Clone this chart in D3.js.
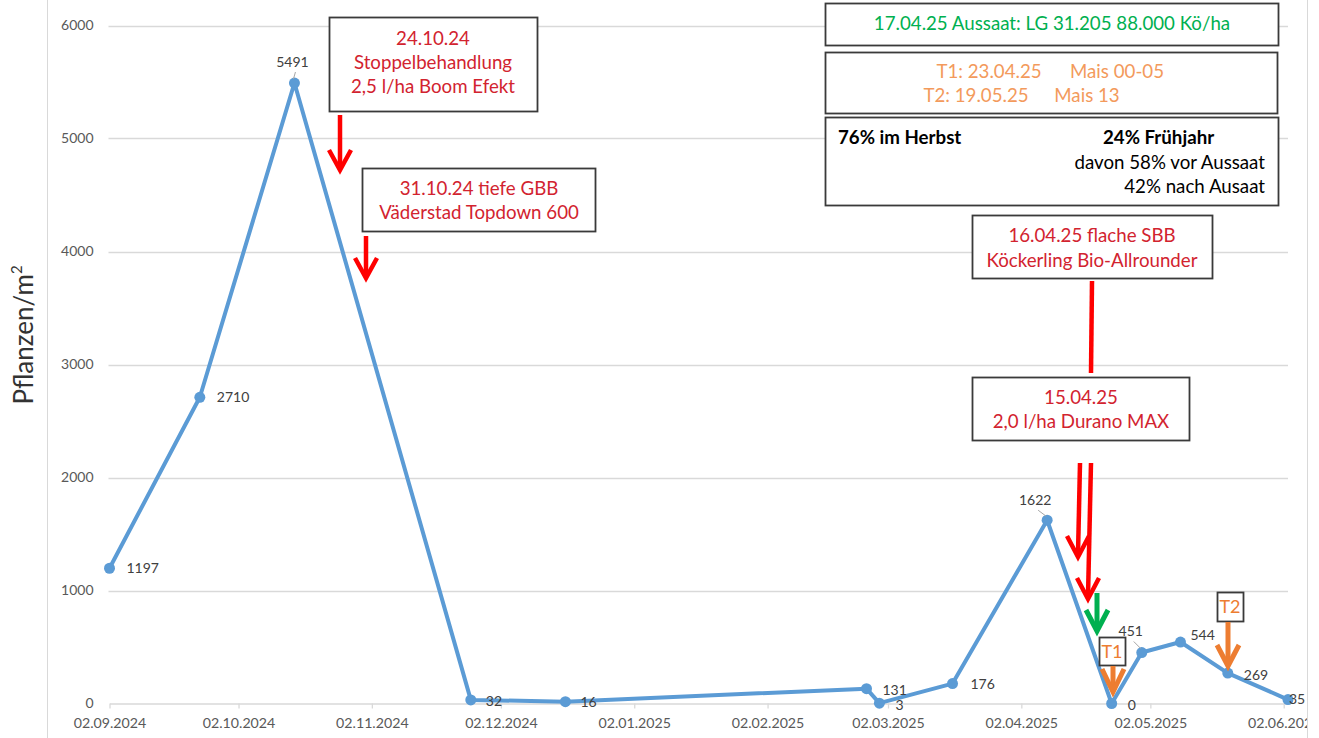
<!DOCTYPE html>
<html><head><meta charset="utf-8">
<script src="https://cdn.jsdelivr.net/npm/d3@7"></script>
<style>
html,body{margin:0;padding:0;background:#fff;overflow:hidden;}
svg{display:block;}
text{font-family:Lato,"Open Sans",sans-serif;}
</style></head><body>
<svg id="chart" width="1319" height="738"></svg>
<script>
// ---- data ----
const dates = ["2024-09-02","2024-09-23","2024-10-15","2024-11-25","2024-12-17","2025-02-25","2025-02-28","2025-03-17","2025-04-08","2025-04-23","2025-04-30","2025-05-09","2025-05-20","2025-06-03"];
const values = [1197,2710,5491,32,16,131,3,176,1622,0,451,544,269,35];
const yTicks = [0,1000,2000,3000,4000,5000,6000];
const xTicks = ["2024-09-02","2024-10-02","2024-11-02","2024-12-02","2025-01-02","2025-02-02","2025-03-02","2025-04-02","2025-05-02","2025-06-02"];
const yTitle = "Pflanzen/m";
const yTitleSup = "2";

// ---- annotation texts ----
const noteTreat1 = ["24.10.24","Stoppelbehandlung","2,5 l/ha Boom Efekt"];
const noteTreat2 = ["31.10.24 tiefe GBB","Väderstad Topdown 600"];
const noteSBB = ["16.04.25 flache SBB","Köckerling Bio-Allrounder"];
const noteDurano = ["15.04.25","2,0 l/ha Durano MAX"];
const noteSowing = "17.04.25 Aussaat: LG 31.205 88.000 Kö/ha";
const noteT = [["T1: 23.04.25","Mais 00-05"],["T2: 19.05.25","Mais 13"]];
const noteShare = ["76% im Herbst","24% Frühjahr","davon 58% vor Aussaat","42% nach Ausaat"];

// ---- layout ----
const W = 1319, H = 738;
const parse = d3.utcParse("%Y-%m-%d");
const fmt = d3.utcFormat("%d.%m.%Y");
const pts = dates.map((d,i)=>({date:parse(d), value:values[i]}));

const x = d3.scaleUtc().domain([parse("2024-09-02"), parse("2025-06-03")]).range([109.5, 1288]);
const y = d3.scaleLinear().domain([0, 6000]).range([703.5, 25.5]);

const svg = d3.select("#chart");
svg.append("defs").append("clipPath").attr("id","frameClip")
  .append("rect").attr("x",0).attr("y",0).attr("width",1307).attr("height",H);
const root = svg.append("g").attr("clip-path","url(#frameClip)");

// frame lines
root.append("line").attr("x1",47.5).attr("x2",47.5).attr("y1",0).attr("y2",H).attr("stroke","#D9D9D9");
svg.append("line").attr("x1",1307.5).attr("x2",1307.5).attr("y1",0).attr("y2",H).attr("stroke","#D9D9D9");

// gridlines
root.append("g").selectAll("line").data(yTicks.filter(v=>v>0)).join("line")
  .attr("x1",x.range()[0]-1).attr("x2",x.range()[1])
  .attr("y1",d=>Math.round(y(d))+0.5).attr("y2",d=>Math.round(y(d))+0.5)
  .attr("stroke","#D9D9D9").attr("stroke-width",1.3);

// y axis
const yAxis = root.append("g").attr("transform",`translate(${x.range()[0]},0)`)
  .call(d3.axisLeft(y).tickValues(yTicks).tickSize(0).tickPadding(16).tickFormat(d3.format("d")));
yAxis.select(".domain").remove();
yAxis.selectAll("text").attr("font-size",14).attr("fill","#595959").style("font-family","Lato");

// x axis
const xAxis = root.append("g").attr("transform",`translate(0,${y(0)})`)
  .call(d3.axisBottom(x).tickValues(xTicks.map(parse)).tickFormat(fmt).tickSize(5).tickSizeOuter(0).tickPadding(9));
xAxis.select(".domain").attr("stroke","#D9D9D9").attr("stroke-width",1.3);
xAxis.selectAll(".tick line").attr("stroke","#D9D9D9").attr("stroke-width",1.3);
xAxis.selectAll("text").attr("font-size",14.2).attr("fill","#595959").style("font-family","Lato");

// y title
const yt = root.append("text").attr("transform","translate(33,335) rotate(-90)")
  .attr("text-anchor","middle").attr("font-size",26).attr("fill","#333");
yt.append("tspan").text(yTitle);
yt.append("tspan").text(yTitleSup).attr("font-size",15).attr("dy",-11);

// line + markers
const lineGen = d3.line().x(d=>x(d.date)).y(d=>y(d.value));
root.append("path").datum(pts).attr("d",lineGen)
  .attr("fill","none").attr("stroke","#5B9BD5").attr("stroke-width",4).attr("stroke-linejoin","round");
root.append("g").selectAll("circle").data(pts).join("circle")
  .attr("cx",d=>x(d.date)).attr("cy",d=>y(d.value)).attr("r",5.5).attr("fill","#5B9BD5");

// data labels (offsets are layout, not data)
const labelOffsets = [[17,0,"start"],[17,0,"start"],[-2,-21,"middle"],[15,1,"start"],[15,0,"start"],[16,1,"start"],[16,2,"start"],[18,0,"start"],[-12,-20,"middle"],[16,2,"start"],[-11,-21,"middle"],[10,-7,"start"],[16,2,"start"],[1,0,"start"]];
const leaders = [2,8,10];
root.append("g").selectAll("line").data(leaders).join("line")
  .attr("x1",i=>x(pts[i].date)+labelOffsets[i][0]+3).attr("y1",i=>y(pts[i].value)+labelOffsets[i][1]+10)
  .attr("x2",i=>x(pts[i].date)-1).attr("y2",i=>y(pts[i].value)-4)
  .attr("stroke","#A6A6A6").attr("stroke-width",1);
root.append("g").selectAll("text").data(pts).join("text")
  .attr("x",(d,i)=>x(d.date)+labelOffsets[i][0]).attr("y",(d,i)=>y(d.value)+labelOffsets[i][1])
  .attr("dy","0.35em").attr("text-anchor",(d,i)=>labelOffsets[i][2])
  .attr("font-size",14).attr("fill","#404040").text(d=>d.value);

// ---- annotation boxes ----
const RED = "#D2232F", GREEN = "#00B050", LORANGE = "#F39A5C", ORANGE = "#ED7D31";
const FS = 18.7;
function box(x0,y0,w,h){
  root.append("rect").attr("x",x0).attr("y",y0).attr("width",w).attr("height",h)
    .attr("fill","#fff").attr("stroke","#3A3A3A").attr("stroke-width",1.8);
}
function txt(tx,ty,s,color,anchor,size,weight){
  root.append("text").attr("x",tx).attr("y",ty).attr("dy","0.35em")
    .attr("text-anchor",anchor||"middle").attr("font-size",size||FS)
    .attr("font-weight",weight||"normal").attr("fill",color).text(s);
}
function arrow(x1,y1,x2,y2,color,w,hw,hh,head){
  root.append("line").attr("x1",x1).attr("y1",y1).attr("x2",x2).attr("y2",y2-(head===false?0:2))
    .attr("stroke",color).attr("stroke-width",w);
  if(head!==false){
    root.append("path").attr("d",`M${x2-hw},${y2-hh}L${x2},${y2}L${x2+hw},${y2-hh}`)
      .attr("fill","none").attr("stroke",color).attr("stroke-width",w).attr("stroke-linejoin","miter");
  }
}

box(329.5,17.5,208,94);
noteTreat1.forEach((s,i)=>txt(433,38+i*24,s,RED));
box(362.5,168.5,233,63);
noteTreat2.forEach((s,i)=>txt(479,188+i*24,s,RED));
arrow(340,115,340,170,"#FF0000",4.5,11,20);
arrow(366,236,366,278,"#FF0000",4.5,11,20);

box(825.5,3.5,453,42);
txt(1052,23,noteSowing,GREEN);
box(825.5,52.5,452,61);
txt(989,71,noteT[0][0],LORANGE); txt(1117,71,noteT[0][1],LORANGE);
txt(976,95,noteT[1][0],LORANGE); txt(1087,95,noteT[1][1],LORANGE);
box(825.5,117.5,453,88);
txt(838,137,noteShare[0],"#000","start",FS,"bold");
txt(1103,137,noteShare[1],"#000","start",FS,"bold");
txt(1265,162,noteShare[2],"#000","end");
txt(1265,186,noteShare[3],"#000","end");

box(972.5,215.5,240,63);
noteSBB.forEach((s,i)=>txt(1092,235+i*25,s,RED));
box(972.5,377.5,217,63);
noteDurano.forEach((s,i)=>txt(1081,397+i*24,s,RED));

arrow(1092,281,1091,373,"#FF0000",4.5,0,0,false);
arrow(1080,463,1078,557,"#FF0000",4.5,11,21);
arrow(1091,463,1088,599,"#FF0000",4.5,11,21);
arrow(1097,593,1097,631,GREEN,5,11,21);

box(1099.5,637.5,26,28);
txt(1112,652,"T1",ORANGE,"middle",18);
arrow(1113,666,1113,692,ORANGE,5,11,23);
box(1217.5,592.5,26,29);
txt(1230,607,"T2",ORANGE,"middle",18);
arrow(1228,622,1228,666,ORANGE,5,11,21);
</script>
</body></html>
